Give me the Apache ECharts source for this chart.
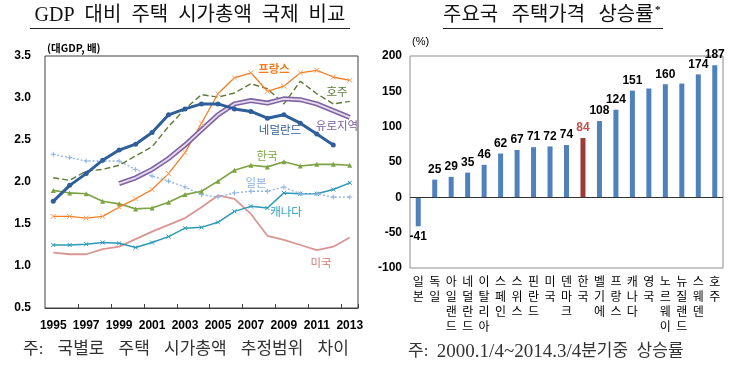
<!DOCTYPE html>
<html><head><meta charset="utf-8">
<script src="https://cdn.jsdelivr.net/npm/echarts@6/dist/echarts.min.js"></script>
<style>html,body{margin:0;padding:0;background:#fff}#c{width:740px;height:373px}</style>
</head><body><div id="c"></div>
<script>
// ---- Left chart data: housing market value relative to GDP (배)
const years = ['1995','1996','1997','1998','1999','2000','2001','2002','2003','2004','2005','2006','2007','2008','2009','2010','2011','2012','2013'];
const netherlands = [1.77,1.96,2.10,2.26,2.38,2.45,2.59,2.80,2.87,2.93,2.93,2.87,2.84,2.76,2.80,2.70,2.57,2.44,null];
const france      = [1.59,1.59,1.57,1.59,1.70,1.80,1.91,2.10,2.35,2.70,3.05,3.24,3.30,3.08,3.14,3.30,3.33,3.25,3.21];
const australia   = [2.05,2.02,2.13,2.15,2.20,2.31,2.42,2.66,2.87,3.04,3.01,3.06,3.17,3.11,2.93,3.20,3.05,2.93,2.96];
const euroArea    = [null,null,null,null,1.98,2.05,2.15,2.28,2.44,2.62,2.80,2.93,2.97,2.94,2.99,2.98,2.93,2.85,2.77];
const korea       = [1.90,1.87,1.86,1.77,1.74,1.68,1.69,1.76,1.85,1.89,2.01,2.14,2.20,2.18,2.24,2.19,2.21,2.21,2.20];
const japan       = [2.33,2.29,2.25,2.25,2.25,2.15,2.07,2.01,1.94,1.85,1.82,1.87,1.89,1.89,1.94,1.86,1.86,1.82,1.82];
const canada      = [1.25,1.25,1.26,1.28,1.27,1.22,1.28,1.35,1.45,1.46,1.52,1.65,1.71,1.69,1.87,1.86,1.86,1.91,1.99];
const usa         = [1.16,1.14,1.14,1.20,1.23,1.32,1.41,1.49,1.57,1.70,1.84,1.80,1.62,1.36,1.31,1.25,1.19,1.23,1.34];

// ---- Right chart data: house price growth (%)
const countries   = ['일본','독일','아일랜드','네덜란드','이탈리아','스페인','스위스','핀란드','미국','덴마크','한국','벨기에','프랑스','캐나다','영국','노르웨이','뉴질랜드','스웨덴','호주'];
const priceGrowth = [-41,25,29,35,46,62,67,71,72,74,84,108,124,151,154,160,161,174,187];
const unlabeledCountries = ['영국','뉴질랜드'];
const highlightCountry = '한국';

const chart = echarts.init(document.getElementById('c'), null, {renderer:'canvas'});
const NUM = "'Liberation Sans Narrow','Arial Narrow','Liberation Sans',Arial,sans-serif";
const KR = "'Noto Sans CJK KR',sans-serif";
const SERIF = "'Liberation Serif','Noto Sans CJK KR',serif";
const X_SYM = 'path://M0,0L10,10M10,0L0,10';
const P_SYM = 'path://M5,0L5,10M0,5L10,5';
const EN = '\u2002', WIDE = '\u2002\u2004', MID = '\u2002\u2006';

function line(name, data, color, extra) {
  return Object.assign({
    type:'line', name, data, xAxisIndex:0, yAxisIndex:0,
    connectNulls:false, smooth:false, silent:true,
    symbol:'none', symbolSize:5,
    lineStyle:{color, width:1.4},
    itemStyle:{color, borderColor:color, borderWidth:1}
  }, extra || {});
}
function lbl(text, x, y, color, weight) {
  return {type:'text', z:50, style:{text, x, y, textAlign:'center', textVerticalAlign:'middle',
    font:(weight||'normal')+' 11.5px '+KR, fill:color}};
}

const option = {
  animation:false,
  backgroundColor:'#fff',
  grid:[
    {left:45, top:56, width:313, height:252, show:true, borderColor:'#404040', borderWidth:1, containLabel:false},
    {left:410, top:56, width:313, height:212, show:true, borderColor:'#8c8c8c', borderWidth:1, containLabel:false}
  ],
  xAxis:[
    {type:'category', gridIndex:0, data:years, boundaryGap:true,
     axisLine:{show:true, lineStyle:{color:'#404040', width:1}},
     axisTick:{show:true, inside:true, length:4, interval:(i)=> i>0 && i%2===0, lineStyle:{color:'#404040'}},
     axisLabel:{interval:1, margin:12, color:'#000', fontWeight:'bold', fontSize:12, fontFamily:NUM},
     splitLine:{show:false}},
    {type:'category', gridIndex:1, data:countries, boundaryGap:true,
     axisLine:{show:false, onZero:false}, axisTick:{show:false},
     axisLabel:{interval:0, margin:6, formatter:(v)=> v.split('').join('\n'),
       fontSize:12, lineHeight:15, color:'#000', fontFamily:KR, verticalAlign:'top'},
     splitLine:{show:false}}
  ],
  yAxis:[
    {type:'value', gridIndex:0, min:0.5, max:3.5, interval:0.5,
     axisLine:{show:false}, axisTick:{show:false}, splitLine:{show:false},
     axisLabel:{formatter:(v)=> v.toFixed(1), margin:14, color:'#000', fontWeight:'bold', fontSize:12, fontFamily:NUM}},
    {type:'value', gridIndex:1, min:-100, max:200, interval:50,
     axisLine:{show:false}, axisTick:{show:false}, splitLine:{show:false},
     axisLabel:{margin:8, color:'#000', fontWeight:'bold', fontSize:12, fontFamily:NUM}}
  ],
  series:[
    line('미국', usa, '#D99694', {lineStyle:{color:'#D99694', width:1.8}}),
    line('캐나다', canada, '#2C9AB7', {symbol:X_SYM, symbolSize:4, lineStyle:{color:'#2C9AB7', width:1.5}}),
    line('일본', japan, '#8DB3E2', {symbol:P_SYM, symbolSize:5, lineStyle:{color:'#8DB3E2', width:1.3, type:[2,2]}}),
    line('한국', korea, '#7DA343', {symbol:'triangle', symbolSize:5, lineStyle:{color:'#7DA343', width:1.6}, itemStyle:{color:'#7DA343'}}),
    line('호주', australia, '#5E7A36', {lineStyle:{color:'#5E7A36', width:1.4, type:[6,3]}}),
    line('프랑스', france, '#F47D23', {symbol:X_SYM, symbolSize:5, lineStyle:{color:'#F47D23', width:1.3}, itemStyle:{color:'#F8A060', borderColor:'#F8A060', borderWidth:1}}),
    line('유로지역', euroArea, '#8064A2', {lineStyle:{color:'#8064A2', width:5}}),
    line('유로지역 ', euroArea, '#E4DCEE', {lineStyle:{color:'#E4DCEE', width:1.8}}),
    line('네덜란드', netherlands, '#2F5F9B', {symbol:'circle', symbolSize:5, lineStyle:{color:'#2F5F9B', width:3}, itemStyle:{color:'#2F5F9B'}}),
    {
      type:'bar', name:'주택가격 상승률', xAxisIndex:1, yAxisIndex:1, barWidth:5, silent:true,
      data: priceGrowth.map((v,i)=>{
        const c = countries[i];
        const hl = c === highlightCountry;
        return {
          value:v,
          itemStyle:{color: hl ? '#9E3B36' : '#4F81BD'},
          label:{show: !unlabeledCountries.includes(c), position: v<0 ? 'bottom' : 'top',
                 color: hl ? '#C0504D' : '#000'}
        };
      }),
      label:{show:true, distance:4, fontSize:12, fontWeight:'bold', fontFamily:NUM},
      markLine:{silent:true, symbol:'none', label:{show:false},
        lineStyle:{color:'#333', type:'solid', width:1}, data:[{yAxis:0}]}
    }
  ],
  graphic:[
    // titles
    {type:'text', style:{text:['GDP','대비','주택','시가총액','국제','비교'].join(EN), x:190, y:16, textAlign:'center', textVerticalAlign:'middle', font:'20px '+SERIF, fill:'#111'}},
    {type:'line', shape:{x1:30, y1:28.5, x2:350, y2:28.5}, style:{stroke:'#222', lineWidth:1}},
    {type:'text', style:{text:['주요국','주택가격','상승률'].join(MID), x:443, y:16, textAlign:'left', textVerticalAlign:'middle', font:'20px '+SERIF, fill:'#111'}},
    {type:'text', style:{text:'*', x:655, y:10, textAlign:'left', textVerticalAlign:'middle', font:'bold 11px '+SERIF, fill:'#111'}},
    {type:'line', shape:{x1:443, y1:28.5, x2:663, y2:28.5}, style:{stroke:'#222', lineWidth:1}},
    // axis names
    {type:'text', style:{text:'(대GDP, 배)', x:47, y:48, textAlign:'left', textVerticalAlign:'middle', font:'bold 10.5px '+KR, fill:'#000'}},
    {type:'text', style:{text:'(%)', x:412, y:42, textAlign:'left', textVerticalAlign:'middle', font:'11px '+NUM, fill:'#000'}},
    // series labels
    lbl('프랑스', 274, 69, '#F47D23', 'bold'),
    lbl('호주', 337, 92, '#5E7A36'),
    lbl('유로지역', 337, 126, '#7A5C9C'),
    lbl('네덜란드', 280, 130, '#2F5F9B'),
    lbl('한국', 267, 156, '#7DA343'),
    lbl('일본', 256, 183, '#8DB3E2'),
    lbl('캐나다', 286, 212, '#2C9AB7'),
    lbl('미국', 321, 263, '#D07C7A'),
    // footnotes
    {type:'text', style:{text:'주:'+WIDE+['국별로','주택','시가총액','추정범위','차이'].join(WIDE), x:23, y:350, textAlign:'left', textVerticalAlign:'middle', font:'17px '+SERIF, fill:'#333'}},
    {type:'text', style:{text:'{k|주:'+EN+'}{n|2000.1/4~2014.3/4}{k|분기중'+EN+'상승률}', x:408, y:352, textAlign:'left', textVerticalAlign:'middle',
      font:'17px '+SERIF, fill:'#333',
      rich:{k:{fontSize:17, fontFamily:SERIF, fill:'#333'}, n:{fontSize:19, fontFamily:"'Liberation Serif',serif", fill:'#333'}}}}
  ]
};
chart.setOption(option);
</script></body></html>
